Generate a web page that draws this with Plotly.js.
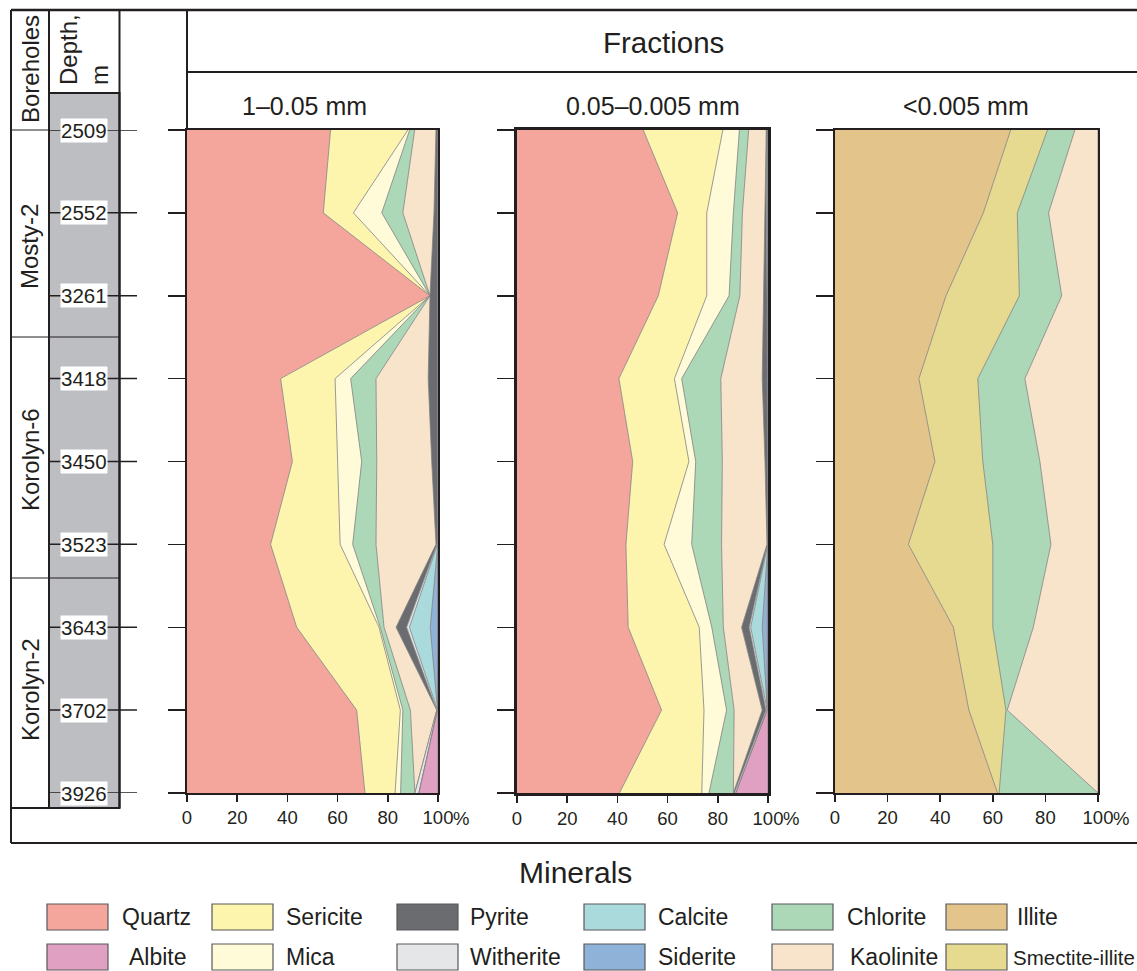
<!DOCTYPE html>
<html><head><meta charset="utf-8">
<script src="https://cdn.plot.ly/plotly-3.0.1.min.js"></script>
<style>body{margin:0;background:#fff}#chart{width:1137px;height:971px}</style>
</head><body><div id="chart"></div><script>
// ---------- data ----------
const depths = ['2509','2552','3261','3418','3450','3523','3643','3702','3926'];
const boreholes = ['Mosty-2','Korolyn-6','Korolyn-2'];
const fractionTitles = ['1–0.05 mm','0.05–0.005 mm','<0.005 mm'];
const xTickVals = [0,20,40,60,80,100];
const xTickText = ['0','20','40','60','80','100'];
const legendRow1 = ['Quartz','Sericite','Pyrite','Calcite','Chlorite','Illite'];
const legendRow2 = ['Albite','Mica','Witherite','Siderite','Kaolinite','Smectite-illite'];

// Fraction 1–0.05 mm (%, per depth)
const f1Quartz    = [57.2, 54.3, 96.8, 37.3, 42.0, 33.3, 43.7, 67.6, 70.9];
const f1Sericite  = [30.8, 12.0, 0, 21.7, 18.0, 27.7, 32.8, 17.4, 12.0];
const f1Mica      = [0.7, 11.3, 0, 6.2, 9.6, 5.0, 0.5, 1.0, 2.2];
const f1Chlorite  = [2.0, 8.4, 0, 10.1, 6.0, 9.3, 1.5, 3.0, 5.7];
const f1Kaolinite = [8.5, 12.4, 0, 20.8, 21.9, 23.9, 4.8, 10.5, 0];
const f1Pyrite    = [0.8, 1.6, 3.2, 3.9, 2.5, 0.4, 4.2, 0, 0];
const f1Witherite = [0, 0, 0, 0, 0, 0.2, 1.1, 0.3, 1.6];
const f1Calcite   = [0, 0, 0, 0, 0, 0.1, 8.3, 0, 0];
const f1Siderite  = [0, 0, 0, 0, 0, 0.1, 3.1, 0, 0];
const f1Albite    = [0, 0, 0, 0, 0, 0, 0, 0.2, 7.6];

// Fraction 0.05–0.005 mm
const f2Quartz    = [50.3, 64.0, 56.3, 40.6, 46.1, 43.4, 44.3, 57.6, 40.8];
const f2Sericite  = [31.7, 11.6, 19.3, 22.1, 22.4, 15.2, 28.3, 16.9, 32.8];
const f2Mica      = [6.6, 10.6, 8.9, 2.9, 2.7, 11.0, 5.0, 9.0, 2.9];
const f2Chlorite  = [3.7, 3.6, 4.3, 15.6, 10.6, 11.9, 4.6, 3.0, 9.7];
const f2Kaolinite = [7.0, 9.0, 9.6, 16.5, 17.0, 18.1, 7.3, 11.2, 0];
const f2Pyrite    = [0.3, 0.6, 1.2, 2.0, 1.0, 0.2, 3.0, 1.5, 0.4];
const f2Witherite = [0.4, 0.6, 0.4, 0.3, 0.2, 0.1, 0.6, 0.5, 0.6];
const f2Calcite   = [0, 0, 0, 0, 0, 0.05, 4.6, 0, 0];
const f2Siderite  = [0, 0, 0, 0, 0, 0.05, 2.3, 0, 0];
const f2Albite    = [0, 0, 0, 0, 0, 0, 0, 0.3, 12.8];

// Fraction <0.005 mm
const f3Illite    = [66.8, 56.4, 42.2, 31.9, 38.0, 27.9, 45.0, 50.9, 61.8];
const f3Smectite  = [14.0, 12.9, 27.9, 22.4, 18.2, 32.1, 15.0, 14.1, 0.6];
const f3Chlorite  = [10.4, 11.9, 16.1, 17.9, 21.7, 22.1, 15.4, 0.5, 37.6];
const f3Kaolinite = [8.8, 18.8, 13.8, 27.8, 22.1, 17.9, 24.6, 34.5, 0];

// ---------- style ----------
const colors = {
  'Quartz':'#f4a69c','Sericite':'#fdf5ad','Pyrite':'#6b6c70','Calcite':'#abdadc',
  'Chlorite':'#acd8b8','Illite':'#e3c58b','Albite':'#dfa0c1','Mica':'#fffad7',
  'Witherite':'#e5e6e7','Siderite':'#8fb2d8','Kaolinite':'#f8e3cb','Smectite-illite':'#e5da8f'
};
const W = 1137, H = 971;
const px = x => x / W;
const py = y => 1 - y / H;
const ink = '#231f20';
const FONT = 'Liberation Sans, Arial, Helvetica, sans-serif';
const rows = depths.map((d, i) => i);

const panels = [
  { names:['Quartz','Sericite','Mica','Chlorite','Kaolinite','Pyrite','Witherite','Calcite','Siderite','Albite'],
    vals:[f1Quartz,f1Sericite,f1Mica,f1Chlorite,f1Kaolinite,f1Pyrite,f1Witherite,f1Calcite,f1Siderite,f1Albite],
    x0:187, x1:438, lw:2, tx:304 },
  { names:['Quartz','Sericite','Mica','Chlorite','Kaolinite','Pyrite','Witherite','Calcite','Siderite','Albite'],
    vals:[f2Quartz,f2Sericite,f2Mica,f2Chlorite,f2Kaolinite,f2Pyrite,f2Witherite,f2Calcite,f2Siderite,f2Albite],
    x0:517, x1:768, lw:3, tx:653 },
  { names:['Illite','Smectite-illite','Chlorite','Kaolinite'],
    vals:[f3Illite,f3Smectite,f3Chlorite,f3Kaolinite],
    x0:835, x1:1098, lw:2, tx:966 }
];

const traces = [];
const layout = {
  width: W, height: H, margin:{l:0,r:0,t:0,b:0}, showlegend:false,
  paper_bgcolor:'#fff', plot_bgcolor:'rgba(0,0,0,0)',
  font:{family:FONT, color:ink},
  shapes:[], annotations:[]
};
const S = layout.shapes, A = layout.annotations;
const txt = (x, y, text, size, extra) => A.push(Object.assign({xref:'paper', yref:'paper',
  x:px(x), y:py(y), text:text, showarrow:false, xanchor:'center', yanchor:'middle',
  font:{size:size, color:ink}}, extra || {}));

panels.forEach((p, k) => {
  const sx = k === 0 ? '' : String(k + 1);
  p.names.forEach((n, j) => {
    traces.push({
      type:'scatter', mode:'lines', x:p.vals[j], y:rows,
      xaxis:'x'+sx, yaxis:'y'+sx,
      stackgroup:'g'+k, orientation:'h',
      fillcolor:colors[n], line:{color:'#808080', width:0.8},
      name:n, hoverinfo:'skip'
    });
  });
  layout['xaxis'+sx] = {
    domain:[px(p.x0), px(p.x1)], range:[0,100], anchor:'y'+sx,
    tickvals:xTickVals, ticktext:xTickText, ticks:'outside', ticklen:7, tickwidth:1.5,
    tickcolor:ink, showline:true, mirror:true, linecolor:ink, linewidth:p.lw,
    showgrid:false, zeroline:false, tickfont:{size:18.5, color:ink, family:FONT}
  };
  layout['yaxis'+sx] = {
    domain:[py(793), py(130)], range:[8,0], anchor:'x'+sx,
    tickvals:rows, ticks:'outside', ticklen:17, tickwidth:1.5, tickcolor:ink,
    showticklabels:false, showline:true, mirror:true, linecolor:ink, linewidth:p.lw,
    showgrid:false, zeroline:false
  };
  A.push({xref:'x'+sx, yref:'paper', x:100, y:py(818), xanchor:'left', yanchor:'middle',
    xshift:13, text:'%', showarrow:false, font:{size:18.5, color:ink}});
  txt(p.tx, 106, fractionTitles[k], 25);
});

const line = (x0,y0,x1,y1,w) => S.push({type:'line', xref:'paper', yref:'paper',
  x0:px(x0), y0:py(y0), x1:px(x1), y1:py(y1), line:{color:ink, width:w||1.5}});

// depth column
S.push({type:'rect', xref:'paper', yref:'paper', x0:px(49), x1:px(119.5), y0:py(93), y1:py(808),
  fillcolor:'#bcbec1', line:{color:ink, width:2}, layer:'below'});
line(49, 10, 49, 808, 2);
line(119.5, 10, 119.5, 808, 2);
// frame
line(11, 10, 1137, 10, 2.5);
line(11, 10, 11, 843, 2);
line(11, 843, 1137, 843, 2);
line(187, 10, 187, 130, 2);
line(187, 72, 1137, 72, 2);
// borehole separators
line(11, 130, 49, 130, 1);
line(11, 337, 120, 337, 1);
line(11, 578, 120, 578, 1);
line(11, 808, 120, 808, 2);

// depth tick lines + labels
rows.forEach(i => {
  S.push({type:'line', xref:'paper', yref:'y', x0:px(50), x1:px(137), y0:i, y1:i, line:{color:ink, width:1.5}});
  A.push({xref:'paper', yref:'y', x:px(84), y:i, text:depths[i], showarrow:false,
    xanchor:'center', yanchor:'middle',
    bgcolor:'#ffffff', borderpad:0, font:{size:20.5, color:ink}});
});

// column headers
txt(30, 69, 'Boreholes', 24, {textangle:-90});
txt(84, 50, 'Depth,<br>m', 24, {textangle:-90, align:'left'});
const bhY = [247, 460, 690];
boreholes.forEach((b, i) => txt(30, bhY[i], b, 24, {textangle:-90}));

txt(663, 42, 'Fractions', 29.5);
txt(575, 872, 'Minerals', 30);

// legend
const swX = [47, 212, 397, 584, 772, 946];
const txX1 = [120, 284, 468, 656, 845, 1015];
const txX2 = [127, 284, 468, 656, 848, 1011];
[[legendRow1, 904, txX1], [legendRow2, 944, txX2]].forEach(([names, top, tx]) => {
  names.forEach((n, i) => {
    S.push({type:'rect', xref:'paper', yref:'paper', x0:px(swX[i]), x1:px(swX[i]+61),
      y0:py(top), y1:py(top+26), fillcolor:colors[n], line:{color:'#58595b', width:1.2}});
    txt(tx[i], top+13, n, n === 'Smectite-illite' ? 20.5 : 23, {xanchor:'left'});
  });
});

Plotly.newPlot('chart', traces, layout, {staticPlot:true});
</script></body></html>
